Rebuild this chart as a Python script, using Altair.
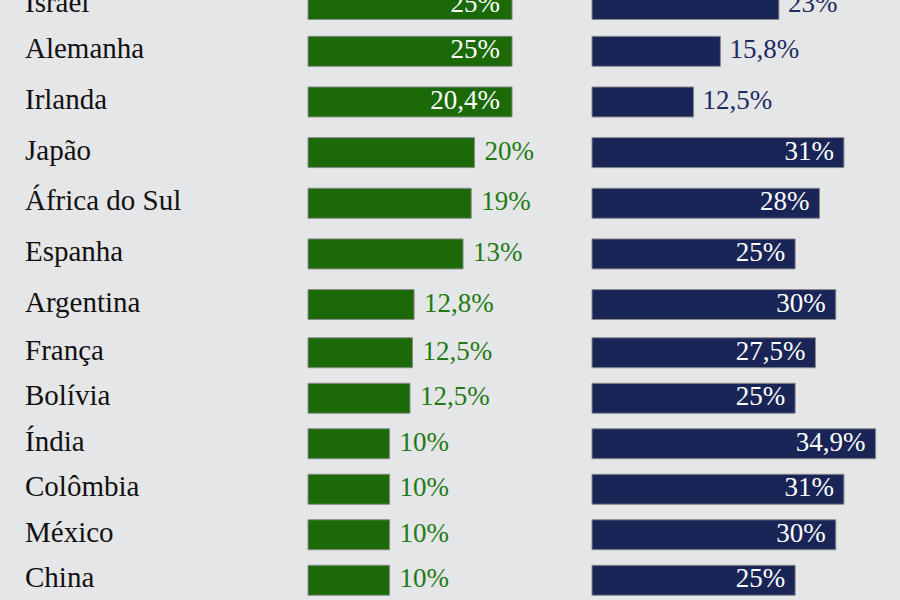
import altair as alt
import pandas as pd

countries = ["Israel", "Alemanha", "Irlanda", "Japão", "África do Sul", "Espanha",
             "Argentina", "França", "Bolívia", "Índia", "Colômbia", "México", "China"]
# green column: printed labels and drawn bar lengths (as they appear in the picture)
green_label = [25, 25, 20.4, 20, 19, 13, 12.8, 12.5, 12.5, 10, 10, 10, 10]
green_bar = [25, 25, 25, 20.4, 20, 19, 13, 12.8, 12.5, 10, 10, 10, 10]
# navy column
navy_value = [23, 15.8, 12.5, 31, 28, 25, 30, 27.5, 25, 34.9, 31, 30, 25]


def fmt(v):
    return f"{v:g}".replace(".", ",") + "%"


df = pd.DataFrame({
    "country": countries,
    "g_bar": green_bar,
    "g_text": [fmt(v) for v in green_label],
    "g_in": [b >= 24 for b in green_bar],
    "n_val": navy_value,
    "n_text": [fmt(v) for v in navy_value],
    "n_in": [v >= 24 for v in navy_value],
})

BG = "#e5e6e8"
GREEN = "#1b6a07"
GREEN_TXT = "#237a14"
NAVY = "#1a2557"
NAVY_TXT = "#1f2a5e"
FONT = "Liberation Serif"
VFS = 27


def block(names, step):
    h = step * len(names)
    d = df[df["country"].isin(names)]
    sc = alt.Scale(domain=names, paddingInner=0, paddingOuter=0)
    y = alt.Y("country:N", sort=names, scale=sc, axis=None)

    def y_ax(w, c):
        return alt.Y("country:N", sort=names, scale=sc,
                     axis=alt.Axis(labels=False, ticks=False, title=None,
                                   domain=True, domainColor=c, domainWidth=w,
                                   grid=False, zindex=1))

    base = alt.Chart(d)
    name_col = base.mark_text(align="left", baseline="alphabetic", dy=7,
                              font=FONT, fontSize=29, color="#111111").encode(
        x=alt.value(25), y=y, text="country:N"
    ).properties(width=308, height=h)

    gx = alt.X("g_bar:Q", scale=alt.Scale(domain=[0, 34.8]), axis=None)
    g_bars = base.mark_bar(size=30, color=GREEN, stroke="#8a8a8a", strokeWidth=1).encode(
        x=gx, y=y_ax(2, "#000000"))
    g_in = base.transform_filter("datum.g_in").mark_text(
        align="right", baseline="alphabetic", dx=-12, dy=7, font=FONT, fontSize=VFS,
        color="white").encode(x=gx, y=y, text="g_text:N")
    g_out = base.transform_filter("!datum.g_in").mark_text(
        align="left", baseline="alphabetic", dx=10, dy=7, font=FONT, fontSize=VFS,
        color=GREEN_TXT).encode(x=gx, y=y, text="g_text:N")
    green = alt.layer(g_bars, g_in, g_out).properties(width=284, height=h)

    nx = alt.X("n_val:Q", scale=alt.Scale(domain=[0, 37.9]), axis=None)
    n_bars = base.mark_bar(size=30, color=NAVY, stroke="#8a8a8a", strokeWidth=1).encode(
        x=nx, y=y_ax(1.5, "#222222"))
    n_in = base.transform_filter("datum.n_in").mark_text(
        align="right", baseline="alphabetic", dx=-10, dy=7, font=FONT, fontSize=VFS,
        color="white").encode(x=nx, y=y, text="n_text:N")
    n_out = base.transform_filter("!datum.n_in").mark_text(
        align="left", baseline="alphabetic", dx=9, dy=7, font=FONT, fontSize=VFS,
        color=NAVY_TXT).encode(x=nx, y=y, text="n_text:N")
    navy = alt.layer(n_bars, n_in, n_out).properties(width=308, height=h)

    return alt.hconcat(name_col, green, navy, spacing=0, bounds="flush")


chart = alt.vconcat(
    block(countries[0:1], 43),
    block(countries[1:7], 50.65),
    block(countries[7:], 45.5),
    spacing=0,
).properties(
    padding={"top": -17, "bottom": -3, "left": 0, "right": 0},
    background=BG,
).configure_view(strokeWidth=0)

chart.save("out.html", embed_options={"renderer": "svg", "actions": False})
